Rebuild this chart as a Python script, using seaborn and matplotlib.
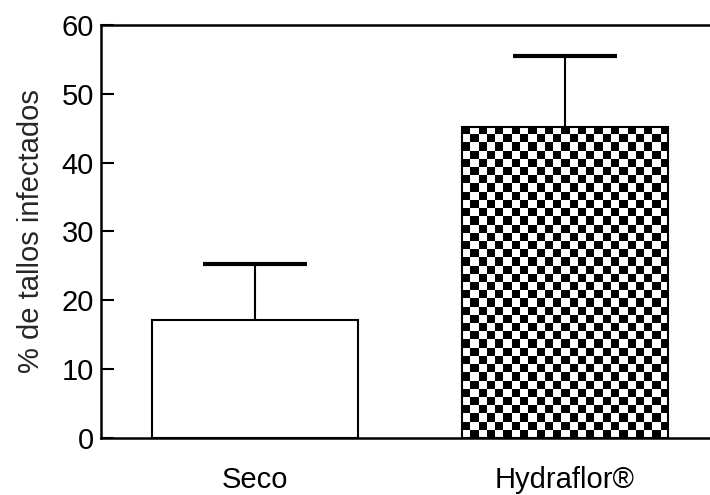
import numpy as np
import pandas as pd
import matplotlib
matplotlib.use("Agg")
import matplotlib.pyplot as plt
import seaborn as sns

categories = ["Seco", "Hydraflor\u00ae"]
means = [17.2, 45.2]
errors = [8.1, 10.3]
yticks = [0, 10, 20, 30, 40, 50, 60]

sns.set_theme(style="white")
plt.rcParams["font.family"] = ["Liberation Sans", "DejaVu Sans"]

df = pd.DataFrame({"cat": categories, "val": means})

fig = plt.figure(figsize=(7.1, 4.95), dpi=100)
ax = fig.add_axes([0.1423, 0.1152, 0.8577, 0.8343])

sns.barplot(data=df, x="cat", y="val", ax=ax, color="white", width=0.667,
            edgecolor="black", linewidth=1.5, errorbar=None, zorder=3)

bars = ax.patches
for i, (m, e) in enumerate(zip(means, errors)):
    ax.errorbar(i, m, yerr=[[0], [e]], fmt="none", ecolor="black",
                elinewidth=1.5, capsize=0, zorder=1)
    ax.plot([i - 0.167, i + 0.167], [m + e, m + e], color="black", lw=3,
            solid_capstyle="butt", zorder=1)

# checkerboard fill for second bar
b = bars[1]
b.set_facecolor("none")
x0, y0 = b.get_x(), b.get_y()
w, h = b.get_width(), b.get_height()
nx = 25
ny = 38
checker = (np.add.outer(np.arange(ny), np.arange(nx)) % 2).astype(float)
im = ax.imshow(checker, cmap="gray", extent=[x0, x0 + w, y0, y0 + h],
               aspect="auto", interpolation="nearest", zorder=2, origin="upper")
im.set_clip_path(b)

ax.set_xlim(-0.497, 1.468)
ax.set_ylim(0, 60)
ax.set_yticks(yticks)
ax.set_xlabel("")
ax.set_ylabel("% de tallos infectados", fontsize=21, labelpad=12)
ax.tick_params(axis="y", direction="in", length=9, width=1.5, labelsize=21,
               left=True, pad=5, color="black", labelcolor="black")
ax.tick_params(axis="x", length=0, labelsize=21, pad=20, labelcolor="black")
for s in ["left", "top", "bottom"]:
    ax.spines[s].set_visible(True)
    ax.spines[s].set_color("black")
    ax.spines[s].set_linewidth(1.8)
ax.spines["right"].set_visible(False)

fig.savefig("out.png", dpi=100)
